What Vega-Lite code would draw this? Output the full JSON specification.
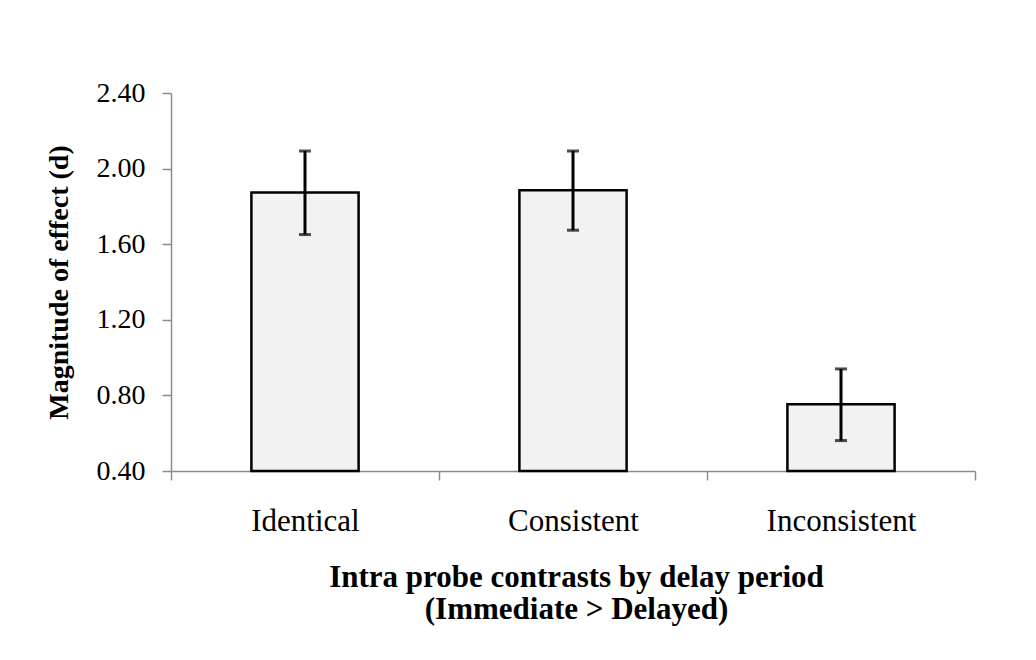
{
  "$schema": "https://vega.github.io/schema/vega-lite/v6.json",
  "autosize": {"type": "none"},
  "width": 804,
  "height": 378,
  "padding": {"left": 171, "top": 93, "right": 61, "bottom": 189},
  "background": "white",
  "config": {
    "view": {"stroke": null},
    "font": "Liberation Serif"
  },
  "data": {
    "values": [
      {"contrast": "Identical", "d": 1.873, "lo": 1.651, "hi": 2.093},
      {"contrast": "Consistent", "d": 1.885, "lo": 1.674, "hi": 2.093},
      {"contrast": "Inconsistent", "d": 0.753, "lo": 0.561, "hi": 0.94}
    ]
  },
  "encoding": {
    "x": {
      "field": "contrast",
      "type": "nominal",
      "sort": null,
      "scale": {"paddingInner": 0, "paddingOuter": 0},
      "axis": {
        "title": ["Intra probe contrasts by delay period", "(Immediate > Delayed)"],
        "titleFont": "Liberation Serif",
        "titleFontSize": 31,
        "titleFontWeight": "bold",
        "titleColor": "black",
        "titleBaseline": "alphabetic",
        "titleLineHeight": 32,
        "titleX": 405,
        "titleY": 115,
        "titleAlign": "center",
        "labelAngle": 0,
        "labelFont": "Liberation Serif",
        "labelFontSize": 31,
        "labelColor": "black",
        "labelBaseline": "alphabetic",
        "labelPadding": 50,
        "tickSize": 9,
        "tickBand": "extent",
        "tickColor": "#8c8c8c",
        "tickWidth": 1.5,
        "domainColor": "#8c8c8c",
        "domainWidth": 1.5,
        "grid": false
      }
    }
  },
  "layer": [
    {
      "mark": {"type": "bar", "fill": "#f2f2f2", "stroke": "black", "strokeWidth": 2.5, "width": {"band": 0.4}},
      "encoding": {
        "y": {
          "field": "d",
          "type": "quantitative",
          "scale": {"domain": [0.4, 2.4], "zero": false, "nice": false},
          "axis": {
            "title": "Magnitude of effect (d)",
            "titleFont": "Liberation Serif",
            "titleFontSize": 28,
            "titleFontWeight": "bold",
            "titleColor": "black",
            "titleAngle": 270,
            "titleBaseline": "alphabetic",
            "titleAlign": "center",
            "titleX": -104,
            "titleY": 189,
            "values": [0.4, 0.8, 1.2, 1.6, 2.0, 2.4],
            "format": ".2f",
            "labelFont": "Liberation Serif",
            "labelFontSize": 28,
            "labelColor": "black",
            "labelPadding": 17,
            "labelBaseline": "middle",
            "tickSize": 9,
            "tickColor": "#8c8c8c",
            "tickWidth": 1.5,
            "domainColor": "#8c8c8c",
            "domainWidth": 1.5,
            "grid": false
          }
        },
        "y2": {"datum": 0.4}
      }
    },
    {
      "mark": {"type": "rule", "color": "black", "strokeWidth": 3},
      "encoding": {
        "y": {"field": "lo", "type": "quantitative"},
        "y2": {"field": "hi"}
      }
    },
    {
      "mark": {"type": "tick", "color": "black", "thickness": 3, "size": 12, "orient": "horizontal"},
      "encoding": {"y": {"field": "lo", "type": "quantitative"}}
    },
    {
      "mark": {"type": "tick", "color": "black", "thickness": 3, "size": 12, "orient": "horizontal"},
      "encoding": {"y": {"field": "hi", "type": "quantitative"}}
    }
  ]
}
